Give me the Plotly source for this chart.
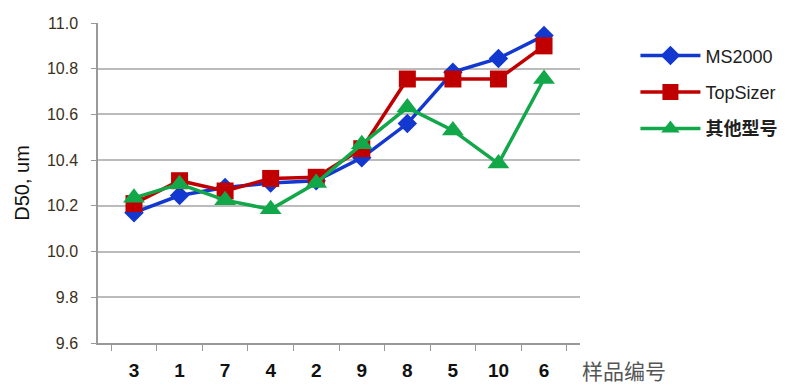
import plotly.graph_objects as go

samples = ["3", "1", "7", "4", "2", "9", "8", "5", "10", "6"]
ms2000 = [10.17, 10.245, 10.28, 10.30, 10.31, 10.41, 10.56, 10.785, 10.845, 10.945]
topsizer = [10.21, 10.31, 10.265, 10.32, 10.325, 10.45, 10.755, 10.755, 10.755, 10.90]
others = [10.235, 10.295, 10.225, 10.185, 10.30, 10.47, 10.63, 10.53, 10.385, 10.755]
names = ["MS2000", "TopSizer", "<b>其他型号</b>"]

FONT = "Arial, Liberation Sans, Noto Sans CJK SC, sans-serif"

fig = go.Figure()
fig.add_trace(go.Scatter(x=samples, y=ms2000, name=names[0], mode="lines+markers",
                         legendgroup="a",
                         line=dict(color="#1238d0", width=3.5),
                         marker=dict(symbol="diamond", size=15, color="#1238d0")))
fig.add_trace(go.Scatter(x=samples, y=topsizer, name=names[1], mode="lines+markers",
                         legendgroup="b",
                         line=dict(color="#c00000", width=3.5),
                         marker=dict(symbol="square", size=17, color="#c00000")))
fig.add_trace(go.Scatter(x=samples, y=others, name=names[2], mode="lines+markers",
                         legendgroup="c",
                         line=dict(color="#12a84a", width=3.5),
                         marker=dict(symbol="triangle-up", size=19, color="#12a84a")))

fig.update_layout(
    width=800, height=386,
    margin=dict(l=98, r=220, t=23, b=43),
    paper_bgcolor="white", plot_bgcolor="white",
    font=dict(family=FONT, color="#222222"),
    showlegend=True,
    legend=dict(x=1.115, y=0.955, xanchor="left", yanchor="top",
                font=dict(size=18, color="#202020"),
                tracegroupgap=10, itemwidth=60,
                bgcolor="rgba(0,0,0,0)"),
    xaxis=dict(type="category", tickson="boundaries", ticks="outside", ticklen=6,
               tickcolor="#999999", showline=True, linecolor="#999999", linewidth=1.5,
               showgrid=False, ticklabelstandoff=9, automargin=False,
               tickfont=dict(size=19, color="#111111", weight="bold"),
               ),
    yaxis=dict(range=[9.6, 11.0], dtick=0.2, tickformat=".1f", ticks="outside",
               ticklen=5, tickcolor="#999999", showline=True, linecolor="#999999",
               linewidth=1.5, gridcolor="#bbbbbb", gridwidth=1.5,
               ticklabelstandoff=10, automargin=False,
               tickfont=dict(size=16, color="#3a3020"),
               title=dict(text="D50, um", font=dict(size=20, color="#111111"), standoff=12),
               zeroline=False),
)

fig.add_annotation(text="样品编号", xref="paper", yref="paper", x=1.0, y=0,
                   xanchor="left", yanchor="middle", yshift=-27, xshift=1, showarrow=False,
                   borderpad=0,
                   font=dict(size=21, color="#555555", family="Noto Sans CJK SC"))

fig.write_html("out.html")
